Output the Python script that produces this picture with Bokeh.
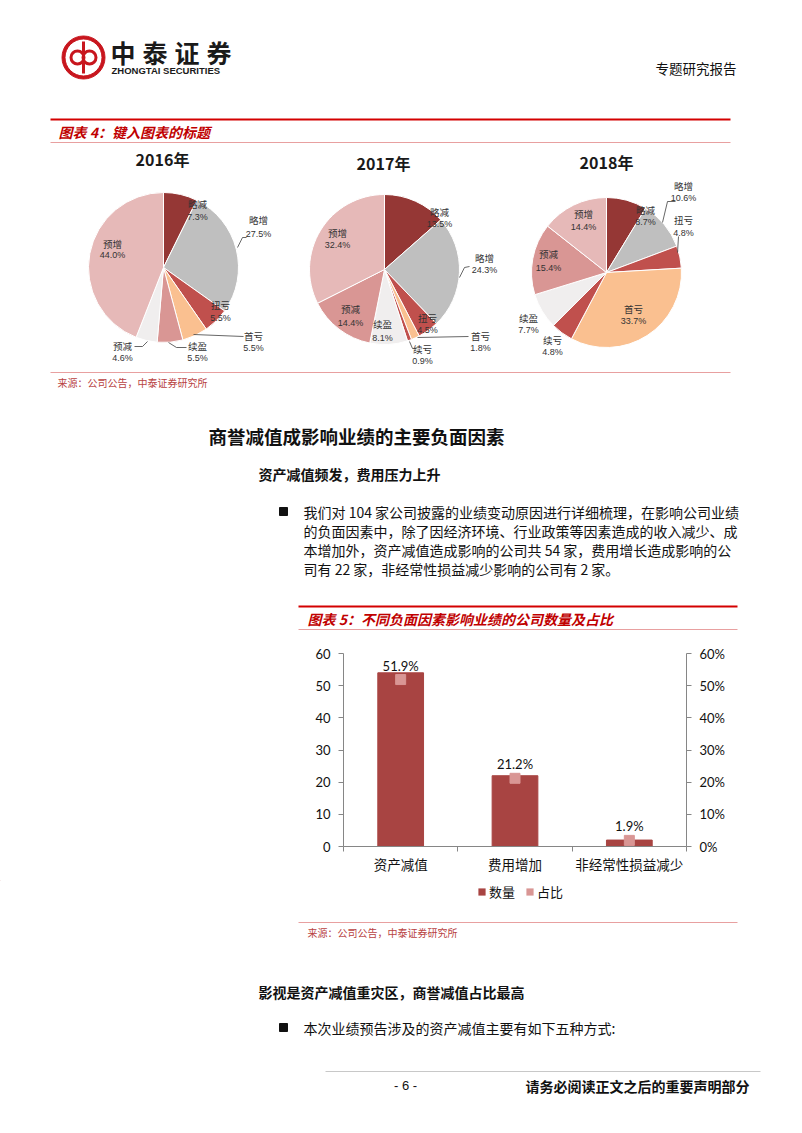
import numpy as np
from bokeh.plotting import figure
from bokeh.models import (Range1d, LinearAxis, FixedTicker, NumeralTickFormatter,
                          ColumnDataSource, Legend, LegendItem, LabelSet)
from bokeh.embed import file_html
from bokeh.resources import INLINE
from bokeh.core.properties import value

# ---------------- data ----------------
pie_years = ["2016年", "2017年", "2018年"]
cats_2016 = ["略减", "略增", "扭亏", "首亏", "续盈", "预减", "预增"]
vals_2016 = [7.3, 27.5, 5.5, 5.5, 5.5, 4.6, 44.0]
cats_2017 = ["略减", "略增", "扭亏", "首亏", "续亏", "续盈", "预减", "预增"]
vals_2017 = [13.5, 24.3, 4.5, 1.8, 0.9, 8.1, 14.4, 32.4]
cats_2018 = ["略减", "略增", "扭亏", "首亏", "续亏", "续盈", "预减", "预增"]
vals_2018 = [8.7, 10.6, 4.8, 33.7, 4.8, 7.7, 15.4, 14.4]

bar_categories = ["资产减值", "费用增加", "非经常性损益减少"]
bar_counts = [54, 22, 2]
bar_shares = [51.9, 21.2, 1.9]
left_ticks = [0, 10, 20, 30, 40, 50, 60]
right_ticks = [0.0, 0.1, 0.2, 0.3, 0.4, 0.5, 0.6]
legend_labels = ["数量", "占比"]

para_lines = [
    "我们对 104 家公司披露的业绩变动原因进行详细梳理，在影响公司业绩",
    "的负面因素中，除了因经济环境、行业政策等因素造成的收入减少、成",
    "本增加外，资产减值造成影响的公司共 54 家，费用增长造成影响的公",
    "司有 22 家，非经常性损益减少影响的公司有 2 家。",
]

# ---------------- styles ----------------
DARK = "#953735"; GRAY = "#BFBFBF"; RED = "#C0504D"; PEACH = "#FAC090"
LIGHT = "#F0EEEE"; ROSE = "#D99694"; PINK = "#E6B9B8"
cols_2016 = [DARK, GRAY, RED, PEACH, ROSE, LIGHT, PINK]
cols_2017 = [DARK, GRAY, RED, PEACH, RED, LIGHT, ROSE, PINK]
cols_2018 = [DARK, GRAY, RED, PEACH, RED, LIGHT, ROSE, PINK]
TITLE_RED = "#C00000"
SRC_RED = "#B8423F"
CJK = "Noto Sans CJK SC"
BAR_COLOR = "#A84442"
SHARE_COLOR = "#D99694"

# label layout: (x, name_y, pct_y)
pos_2016 = [(197, 203, 216), (258, 219, 233), (220, 304, 317), (253, 335, 347),
            (197, 345, 357), (122, 345, 357), (112, 243, 254)]
pos_2017 = [(439, 211, 223), (484, 257, 269), (427, 317, 329), (480, 335, 347),
            (422, 348, 360), (382, 323, 337), (350, 308, 322), (337, 232, 244)]
pos_2018 = [(645, 209, 221), (683, 185, 197), (683, 219, 232), (633, 308, 320),
            (552, 339, 351), (528, 317, 329), (548, 253, 267), (583, 213, 226)]
leaders = [
    [(237, 247), (242, 237), (246, 237)],
    [(193, 334), (243, 336)],
    [(168, 342), (176, 347), (186, 347)],
    [(134, 346), (142, 346), (147, 341)],
    [(459, 277), (464, 267), (469, 266)],
    [(417, 337), (468, 336)],
    [(409, 341), (412, 348), (416, 348)],
    [(662, 222), (667, 201), (675, 201)],
    [(677, 252), (678, 236)],
]

W = 802


def page_fig(y0, y1):
    p = figure(width=W, height=int(y1 - y0), x_range=Range1d(0, W),
               y_range=Range1d(y1, y0), output_backend="svg", toolbar_location=None,
               x_axis_type=None, y_axis_type=None, min_border=0)
    p.outline_line_color = None
    p.background_fill_color = "white"
    p.border_fill_color = "white"
    return p


def txt(p, x, y, s, size, color="#000000", font=CJK, style="normal", align="left"):
    p.text(x=[x], y=[y], text=[s], text_font=value(font), text_font_size=f"{size}px",
           text_color=color, text_font_style=style, text_align=align, text_baseline="middle")


def hline(p, x0, x1, y, color, w):
    p.line(x=[x0, x1], y=[y, y], line_color=color, line_width=w)


# ---------------- top part ----------------
top = page_fig(0, 640)

# logo
top.annulus(x=[83], y=[57], inner_radius=18.5, outer_radius=21.5, color="#C8161E")
top.circle(x=[77, 89], y=[57, 57], radius=6.5, fill_color=None, line_color="#C8161E", line_width=3)
top.line(x=[83, 83], y=[41, 73], line_color="#C8161E", line_width=3)
for i, ch in enumerate("中泰证券"):
    txt(top, 110 + i * 32, 51, ch, 25, "#1a1a1a", style="bold")
txt(top, 111, 70, "ZHONGTAI SECURITIES", 9.5, "#1a1a1a", font="Liberation Sans", style="bold")
txt(top, 655, 67, "专题研究报告", 13.5, "#111111")

# figure 4 header
hline(top, 50, 730, 119, "#D40000", 2)
txt(top, 58, 131, "图表 4：键入图表的标题", 14, TITLE_RED, style="bold italic")
hline(top, 50, 730, 142, "#E8A0A0", 1)

centers = [(163, 267), (384, 269), (606, 272)]
title_pos = [(162, 158), (383, 162), (606, 161)]
all_vals = [vals_2016, vals_2017, vals_2018]
all_cats = [cats_2016, cats_2017, cats_2018]
all_cols = [cols_2016, cols_2017, cols_2018]
all_pos = [pos_2016, pos_2017, pos_2018]

for k in range(3):
    vals = np.array(all_vals[k], dtype=float)
    frac = vals / vals.sum()
    cum = np.concatenate([[0.0], np.cumsum(frac)])
    cx, cy = centers[k]
    src = ColumnDataSource(dict(
        start=np.pi / 2 - 2 * np.pi * cum[:-1],
        end=np.pi / 2 - 2 * np.pi * cum[1:],
        color=all_cols[k]))
    top.wedge(x=cx, y=cy, radius=75, start_angle="start", end_angle="end",
              direction="clock", fill_color="color", line_color="white",
              line_width=1, source=src)
    tx, ty = title_pos[k]
    txt(top, tx, ty, pie_years[k], 16, "#1a1a1a", style="bold", align="center")
    pos = all_pos[k]
    top.text(x=[q[0] for q in pos], y=[q[1] for q in pos], text=all_cats[k],
             text_font=value(CJK), text_font_size="9.5px", text_color="#333333",
             text_align="center", text_baseline="middle")
    top.text(x=[q[0] for q in pos], y=[q[2] for q in pos],
             text=[f"{v:.1f}%" for v in all_vals[k]],
             text_font=value("Liberation Sans"), text_font_size="9px", text_color="#333333",
             text_align="center", text_baseline="middle")

top.multi_line(xs=[[a[0] for a in l] for l in leaders], ys=[[a[1] for a in l] for l in leaders],
               line_color="#404040", line_width=0.8)

hline(top, 50, 730, 372, "#E8A0A0", 1)
txt(top, 57, 382, "来源：公司公告，中泰证券研究所", 10, SRC_RED)

txt(top, 208, 435, "商誉减值成影响业绩的主要负面因素", 18.5, "#111111", style="bold")
txt(top, 258, 473, "资产减值频发，费用压力上升", 14, "#111111", style="bold")
top.scatter(x=[283], y=[511], marker="square", size=8, color="#111111")
for i, line in enumerate(para_lines):
    txt(top, 303, 511 + i * 19.3, line, 14, "#111111")

hline(top, 298, 737, 606, "#D40000", 2)
txt(top, 307, 618, "图表 5：不同负面因素影响业绩的公司数量及占比", 14, TITLE_RED, style="bold italic")
hline(top, 298, 737, 629, "#E8A0A0", 1)

# ---------------- bar chart (page y 640..880) ----------------
bar = figure(width=W, height=240, x_range=Range1d(0, 3), y_range=Range1d(0, 60),
             output_backend="svg", toolbar_location=None, x_axis_type=None, y_axis_type=None,
             min_border_left=343, min_border_right=116, min_border_top=13, min_border_bottom=34)
bar.outline_line_color = None
bar.border_fill_color = "white"
bar.extra_y_ranges = {"pct": Range1d(0, 0.6)}

AX = "#868686"
yl = LinearAxis(ticker=FixedTicker(ticks=left_ticks))
yr = LinearAxis(y_range_name="pct", ticker=FixedTicker(ticks=right_ticks),
                formatter=NumeralTickFormatter(format="0%"))
for ax in (yl, yr):
    ax.axis_line_color = AX
    ax.major_tick_line_color = AX
    ax.major_tick_out = 5
    ax.major_tick_in = 0
    ax.minor_tick_line_color = None
    ax.major_label_text_font = "Lato"
    ax.major_label_text_font_size = "13px"
    ax.major_label_text_color = "#111111"
    ax.major_label_standoff = 8
bar.add_layout(yl, "left")
bar.add_layout(yr, "right")

xpos = np.arange(len(bar_categories)) + 0.5
xa = LinearAxis(ticker=FixedTicker(ticks=list(xpos), minor_ticks=list(range(len(bar_categories) + 1))),
                major_label_overrides={float(x): c for x, c in zip(xpos, bar_categories)})
xa.axis_line_color = AX
xa.major_tick_line_color = None
xa.major_tick_out = 0
xa.major_tick_in = 0
xa.minor_tick_line_color = AX
xa.minor_tick_out = 5
xa.minor_tick_in = 0
xa.major_label_text_font = CJK
xa.major_label_text_font_size = "13.5px"
xa.major_label_text_color = "#111111"
xa.major_label_standoff = 2
bar.add_layout(xa, "below")

src_b = ColumnDataSource(dict(x=xpos, count=bar_counts,
                              share=np.array(bar_shares) / 100.0,
                              lab=[f"{s:.1f}%" for s in bar_shares]))
bar.vbar(x="x", top="count", width=0.4, color=BAR_COLOR, source=src_b)
bar.scatter(x="x", y="share", y_range_name="pct", marker="square", size=10,
            color=SHARE_COLOR, source=src_b)
bar.add_layout(LabelSet(x="x", y="share", y_range_name="pct", text="lab", y_offset=6,
                        text_align="center", text_baseline="bottom", text_font=value("Lato"),
                        text_font_size=value("13px"), text_color="#111111", source=src_b))

# ---------------- bottom part (page y 880..1133) ----------------
bot = page_fig(880, 1133)
# legend of the bar chart (proxy renderers kept far outside the visible range)
p1 = bot.vbar(x=[-5000], top=[-5000], bottom=[-5010], width=1,
              fill_color=BAR_COLOR, line_alpha=0)
p2 = bot.vbar(x=[-5000], top=[-5000], bottom=[-5010], width=1,
              fill_color=SHARE_COLOR, line_alpha=0)
leg = Legend(items=[LegendItem(label=legend_labels[0], renderers=[p1]),
                    LegendItem(label=legend_labels[1], renderers=[p2])],
             orientation="horizontal", location=(477, 1133 - 901), padding=0, margin=0,
             glyph_width=9, glyph_height=9, label_standoff=3, spacing=10,
             label_text_font=CJK, label_text_font_size="13px", label_text_color="#111111",
             border_line_color=None, background_fill_alpha=0)
bot.add_layout(leg, "center")

hline(bot, 298, 737, 922, "#E8A0A0", 1)
txt(bot, 307, 932, "来源：公司公告，中泰证券研究所", 10, SRC_RED)
txt(bot, 258, 991, "影视是资产减值重灾区，商誉减值占比最高", 14, "#111111", style="bold")
bot.scatter(x=[283], y=[1027], marker="square", size=8, color="#111111")
txt(bot, 303, 1027, "本次业绩预告涉及的资产减值主要有如下五种方式:", 14, "#111111")
hline(bot, 325, 760, 1071, "#C8C8C8", 1)
txt(bot, 405, 1085, "- 6 -", 13, "#111111", font="Liberation Sans", align="center")
txt(bot, 525, 1085, "请务必阅读正文之后的重要声明部分", 14, "#111111", style="bold")

open("out.html", "w").write(file_html([top, bar, bot], INLINE))
